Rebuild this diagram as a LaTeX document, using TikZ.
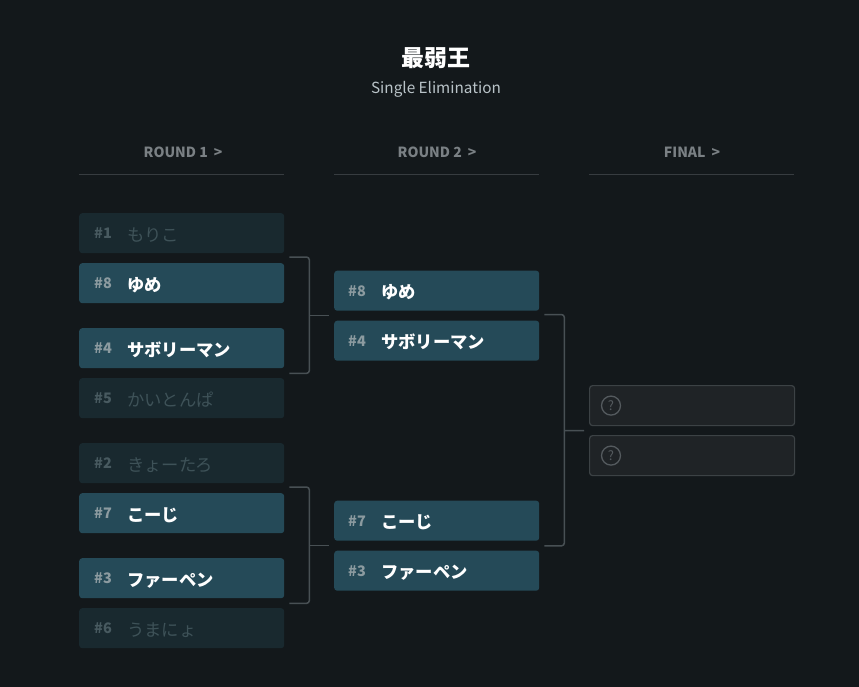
\documentclass[tikz,border=0pt]{standalone}
\usepackage{fontspec}
\usepackage{xcolor}
\usepackage{tikz}
\usetikzlibrary{calc}
\setmainfont{Noto Sans CJK JP}
\newfontfamily\jp{Noto Sans CJK JP}

\definecolor{bgcol}{RGB}{19,24,27}
\definecolor{livefill}{RGB}{37,74,88}
\definecolor{outfill}{RGB}{25,41,47}
\definecolor{outtext}{RGB}{62,82,88}
\definecolor{seedlive}{RGB}{140,155,160}
\definecolor{seedout}{RGB}{72,90,96}
\definecolor{headtext}{RGB}{122,128,132}
\definecolor{headrule}{RGB}{55,60,64}
\definecolor{bracketcol}{RGB}{72,80,84}
\definecolor{tbdfill}{RGB}{31,35,38}
\definecolor{tbdline}{RGB}{60,66,69}
\definecolor{qcol}{RGB}{84,90,94}

\newcommand{\seedno}[1]{\makebox[33pt][l]{\raisebox{2.5pt}{\fontsize{14.5}{16}\selectfont\bfseries #1}}}

\begin{document}
\begin{tikzpicture}[x=1pt, y=-1pt,
    slot/.style={anchor=north west, minimum width=205pt, minimum height=40pt, text width=205pt, align=left, inner xsep=0pt, rounded corners=3pt, text height=16pt, text depth=0pt},
    live/.style={slot, fill=livefill, text=white, font=\jp\fontsize{17.3}{18}\selectfont\bfseries},
    elim/.style={slot, fill=outfill, text=outtext, font=\jp\fontsize{17.3}{18}\selectfont},
    tbd/.style={slot, fill=tbdfill, draw=tbdline, line width=1.2pt},
    roundhead/.style={text=headtext, font=\jp\fontsize{14}{16}\selectfont\bfseries},
    headline/.style={draw=headrule, line width=1pt},
    bracket/.style={draw=bracketcol, line width=1.5pt, rounded corners=3pt}]

\fill[bgcol] (0,0) rectangle (859,687);
\useasboundingbox (0,0) rectangle (859,687);

% title
\node (title) at (436,58) [text=white, font=\jp\fontsize{23}{26}\selectfont\bfseries] {最弱王};
\node (subtitle) at (436,89) [text={rgb,255:red,185;green,195;blue,200}, font=\jp\fontsize{15.3}{17}\selectfont] {Single Elimination};

% round headers
\node (head1) at (183,152) [roundhead] {ROUND 1\hspace{6pt}>};
\node (head2) at (437,152) [roundhead] {ROUND 2\hspace{6pt}>};
\node (head3) at (692,152) [roundhead] {FINAL\hspace{6pt}>};
\draw[headline] (79,174.5) -- (284,174.5);
\draw[headline] (334,174.5) -- (539,174.5);
\draw[headline] (589,174.5) -- (794,174.5);

% round 1
\node (r1a) at (79,213) [elim] {\hspace*{15pt}\textcolor{seedout}{\seedno{\#1}}もりこ};
\node (r1b) at (79,263) [live] {\hspace*{15pt}\textcolor{seedlive}{\seedno{\#8}}ゆめ};
\node (r1c) at (79,328) [live] {\hspace*{15pt}\textcolor{seedlive}{\seedno{\#4}}サボリーマン};
\node (r1d) at (79,378) [elim] {\hspace*{15pt}\textcolor{seedout}{\seedno{\#5}}かいとんぱ};
\node (r1e) at (79,443) [elim] {\hspace*{15pt}\textcolor{seedout}{\seedno{\#2}}きょーたろ};
\node (r1f) at (79,493) [live] {\hspace*{15pt}\textcolor{seedlive}{\seedno{\#7}}こーじ};
\node (r1g) at (79,558) [live] {\hspace*{15pt}\textcolor{seedlive}{\seedno{\#3}}ファーペン};
\node (r1h) at (79,608) [elim] {\hspace*{15pt}\textcolor{seedout}{\seedno{\#6}}うまにょ};

% round 2
\node (r2a) at (334,270.5) [live] {\hspace*{14pt}\textcolor{seedlive}{\seedno{\#8}}ゆめ};
\node (r2b) at (334,320.5) [live] {\hspace*{14pt}\textcolor{seedlive}{\seedno{\#4}}サボリーマン};
\node (r2c) at (334,500.5) [live] {\hspace*{14pt}\textcolor{seedlive}{\seedno{\#7}}こーじ};
\node (r2d) at (334,550.5) [live] {\hspace*{14pt}\textcolor{seedlive}{\seedno{\#3}}ファーペン};

% final
\node (fa) at (589,385) [tbd] {};
\node (fb) at (589,435) [tbd] {};
\draw[qcol, line width=1.3pt] ([xshift=22pt]fa.west) circle (9.5pt) node[text=qcol, font=\jp\fontsize{13}{14}\selectfont] (qa) {?};
\draw[qcol, line width=1.3pt] ([xshift=22pt]fb.west) circle (9.5pt) node[text=qcol, font=\jp\fontsize{13}{14}\selectfont] (qb) {?};

% brackets
\draw[bracket] ([xshift=5pt,yshift=6pt]r1b.north east) -- ++(20,0) |- ([xshift=5pt,yshift=-5pt]r1c.south east);
\draw[bracket] ($(r1b.north east)!0.5!(r1c.south east)+(25,0)$) -- ($(r2a.south west)!0.5!(r2b.north west)+(-5,0)$);
\draw[bracket] ([xshift=5pt,yshift=6pt]r1f.north east) -- ++(20,0) |- ([xshift=5pt,yshift=-5pt]r1g.south east);
\draw[bracket] ($(r1f.north east)!0.5!(r1g.south east)+(25,0)$) -- ($(r2c.south west)!0.5!(r2d.north west)+(-5,0)$);
\draw[bracket] ([xshift=5pt,yshift=6pt]r2b.north east) -- ++(20,0) |- ([xshift=5pt,yshift=-5pt]r2c.south east);
\draw[bracket] ($(r2b.north east)!0.5!(r2c.south east)+(25,0)$) -- ($(fa.south west)!0.5!(fb.north west)+(-5,0)$);
\end{tikzpicture}
\end{document}
